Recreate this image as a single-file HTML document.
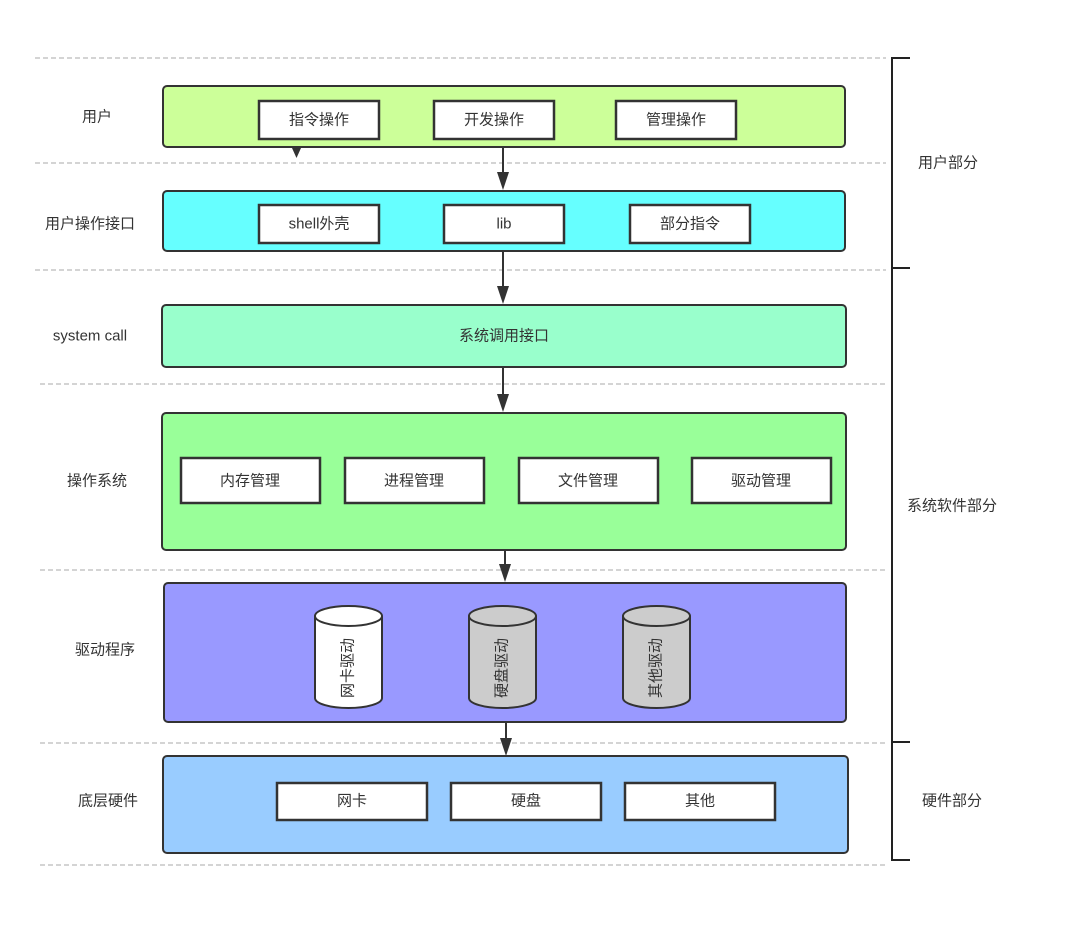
<!DOCTYPE html>
<html><head><meta charset="utf-8"><style>
html,body{margin:0;padding:0;background:#fff;}
svg text{font-family:"Liberation Sans","Noto Sans CJK SC",sans-serif;font-size:15px;fill:#333;}
</style></head><body>
<svg width="1072" height="927" viewBox="0 0 1072 927" xmlns="http://www.w3.org/2000/svg">
<g stroke="#aaa" stroke-dasharray="5,3" stroke-width="1">
<line x1="35" y1="58" x2="886" y2="58"/><line x1="35" y1="163" x2="886" y2="163"/>
<line x1="35" y1="270" x2="886" y2="270"/><line x1="40" y1="384" x2="886" y2="384"/>
<line x1="40" y1="570" x2="886" y2="570"/><line x1="40" y1="743" x2="886" y2="743"/>
<line x1="40" y1="865" x2="886" y2="865"/>
</g>
<g stroke="#222" stroke-width="2" fill="none">
<path d="M910,58 H892 V268 H910"/><path d="M892,268 V742 H910"/><path d="M892,742 V860 H910"/>
</g>
<g stroke="#333" stroke-width="2">
<rect x="163" y="86" width="682" height="61" rx="4" fill="#ccff99"/>
<rect x="163" y="191" width="682" height="60" rx="4" fill="#66ffff"/>
<rect x="162" y="305" width="684" height="62" rx="4" fill="#99ffcc"/>
<rect x="162" y="413" width="684" height="137" rx="4" fill="#99ff99"/>
<rect x="164" y="583" width="682" height="139" rx="4" fill="#9999ff"/>
<rect x="163" y="756" width="685" height="97" rx="4" fill="#99ccff"/>
</g>
<g stroke="#333" stroke-width="2.5" fill="#fff">
<rect x="259" y="101" width="120" height="38"/><rect x="434" y="101" width="120" height="38"/><rect x="616" y="101" width="120" height="38"/>
<rect x="259" y="205" width="120" height="38"/><rect x="444" y="205" width="120" height="38"/><rect x="630" y="205" width="120" height="38"/>
<rect x="181" y="458" width="139" height="45"/><rect x="345" y="458" width="139" height="45"/><rect x="519" y="458" width="139" height="45"/><rect x="692" y="458" width="139" height="45"/>
<rect x="277" y="783" width="150" height="37"/><rect x="451" y="783" width="150" height="37"/><rect x="625" y="783" width="150" height="37"/>
</g>
<g stroke="#333" stroke-width="2">
<path d="M315,616 V698 A33.5,10 0 0 0 382,698 V616" fill="#fff"/><ellipse cx="348.5" cy="616" rx="33.5" ry="10" fill="#fff"/>
<path d="M469,616 V698 A33.5,10 0 0 0 536,698 V616" fill="#ccc"/><ellipse cx="502.5" cy="616" rx="33.5" ry="10" fill="#ccc"/>
<path d="M623,616 V698 A33.5,10 0 0 0 690,698 V616" fill="#ccc"/><ellipse cx="656.5" cy="616" rx="33.5" ry="10" fill="#ccc"/>
</g>
<g stroke="#333" stroke-width="2">
<line x1="503" y1="147" x2="503" y2="178"/><line x1="503" y1="251" x2="503" y2="292"/>
<line x1="503" y1="367" x2="503" y2="400"/><line x1="505" y1="550" x2="505" y2="570"/>
<line x1="506" y1="722" x2="506" y2="744"/>
</g>
<g fill="#333">
<path d="M497,172 L509,172 L503,190 z"/>
<path d="M497,286 L509,286 L503,304 z"/>
<path d="M497,394 L509,394 L503,412 z"/>
<path d="M499,564 L511,564 L505,582 z"/>
<path d="M500,738 L512,738 L506,756 z"/>
<path d="M292,148 L301,148 L296.5,158 z"/>
</g>
<g text-anchor="middle" dominant-baseline="central">
<text x="97" y="117">用户</text><text x="90" y="224">用户操作接口</text><text x="90" y="336">system call</text>
<text x="97" y="481">操作系统</text><text x="105" y="650">驱动程序</text><text x="108" y="801">底层硬件</text>
<text x="948" y="163">用户部分</text><text x="952" y="506">系统软件部分</text><text x="952" y="801">硬件部分</text>
<text x="319" y="120">指令操作</text><text x="494" y="120">开发操作</text><text x="676" y="120">管理操作</text>
<text x="319" y="224">shell外壳</text><text x="504" y="224">lib</text><text x="690" y="224">部分指令</text>
<text x="504" y="336">系统调用接口</text>
<text x="250" y="481">内存管理</text><text x="414" y="481">进程管理</text><text x="588" y="481">文件管理</text><text x="761" y="481">驱动管理</text>
<text x="352" y="801">网卡</text><text x="526" y="801">硬盘</text><text x="700" y="801">其他</text>
<text transform="translate(348,668) rotate(-90)">网卡驱动</text>
<text transform="translate(502,668) rotate(-90)">硬盘驱动</text>
<text transform="translate(656,668) rotate(-90)">其他驱动</text>
</g>
</svg>
</body></html>
